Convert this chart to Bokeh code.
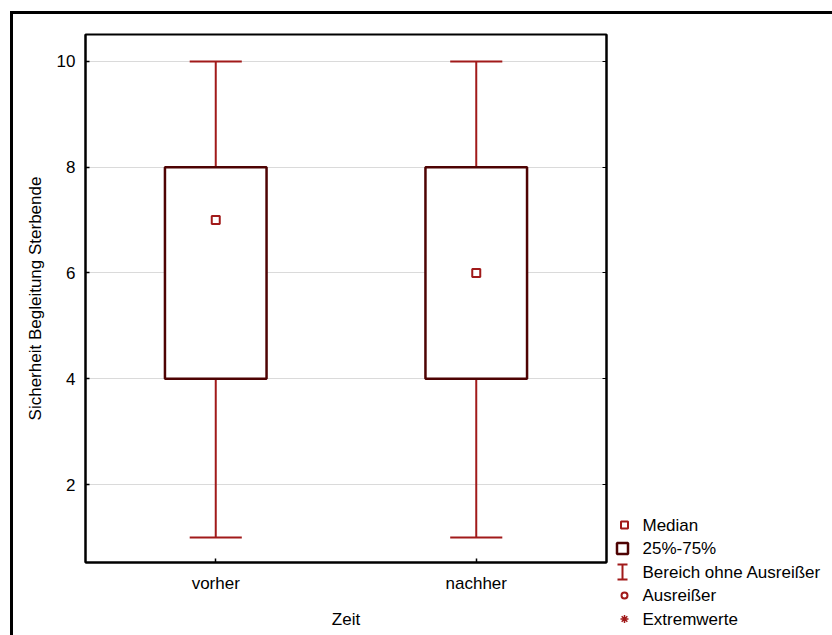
from bokeh.plotting import figure
from bokeh.layouts import row, column
from bokeh.models import Range1d, FixedTicker, LinearAxis, ColumnDataSource, CustomLabelingPolicy
from bokeh.core.properties import value
from bokeh.embed import file_html
from bokeh.resources import INLINE

# Box plot summary per time point
zeit = ["vorher", "nachher"]
median = [7, 6]
q1 = [4, 4]
q3 = [8, 8]
whisker_low = [1, 1]
whisker_high = [10, 10]
y_ticks = [2, 4, 6, 8, 10]

legend_labels = ["Median", "25%-75%", "Bereich ohne Ausreißer", "Ausreißer", "Extremwerte"]

FONT = "Liberation Sans"
FS = "17px"
BOX_COLOR = "#4e0303"
WHISK_COLOR = "#a11a1a"
MED_COLOR = "#a11a1a"

box_w = 0.39
cap_w = 0.2

xpos = [i + 1 for i in range(len(zeit))]
src = ColumnDataSource(dict(
    x=xpos, med=median, q1=q1, q3=q3, lo=whisker_low, hi=whisker_high,
    cl=[x - cap_w / 2 for x in xpos], cr=[x + cap_w / 2 for x in xpos],
))

p = figure(
    x_range=Range1d(0.5, len(zeit) + 0.5),
    y_range=Range1d(0.525, 10.51),
    width=597, height=621,
    min_border_left=72, min_border_right=4, min_border_top=20, min_border_bottom=73,
    output_backend="svg", toolbar_location=None,
)

# whiskers (stems and caps)
p.segment(x0="x", y0="lo", x1="x", y1="q1", source=src, line_color=WHISK_COLOR, line_width=2)
p.segment(x0="x", y0="q3", x1="x", y1="hi", source=src, line_color=WHISK_COLOR, line_width=2)
p.segment(x0="cl", y0="lo", x1="cr", y1="lo", source=src, line_color=WHISK_COLOR, line_width=2)
p.segment(x0="cl", y0="hi", x1="cr", y1="hi", source=src, line_color=WHISK_COLOR, line_width=2)

# interquartile box
p.vbar(x="x", bottom="q1", top="q3", width=box_w, source=src,
       fill_color="white", line_color=BOX_COLOR, line_width=2.5)

# median marker
p.scatter(x="x", y="med", source=src, marker="square", size=8,
          fill_color="white", line_color=MED_COLOR, line_width=2)

# axes styling
p.outline_line_color = "black"
p.outline_line_width = 2
p.xgrid.visible = False
p.ygrid.grid_line_color = "#dadada"
p.ygrid.grid_line_width = 1
p.yaxis.ticker = FixedTicker(ticks=y_ticks)
p.ygrid.ticker = FixedTicker(ticks=y_ticks)
p.xaxis.ticker = FixedTicker(ticks=xpos)
p.xaxis.major_label_overrides = {x: name for x, name in zip(xpos, zeit)}

for ax in (p.xaxis[0], p.yaxis[0]):
    ax.axis_line_width = 2
    ax.axis_line_color = "black"
    ax.major_tick_in = 4
    ax.major_tick_out = 0
    ax.major_tick_line_width = 1.5
    ax.minor_tick_line_color = None
    ax.major_label_text_font = FONT
    ax.major_label_text_font_size = FS
    ax.major_label_text_color = "black"
    ax.axis_label_text_font = FONT
    ax.axis_label_text_font_size = FS
    ax.axis_label_text_font_style = "normal"
    ax.axis_label_text_color = "black"

p.xaxis.axis_label = "Zeit"
p.yaxis.axis_label = "Sicherheit Begleitung Sterbende"
p.xaxis.major_label_standoff = 11
p.xaxis.axis_label_standoff = 14
p.yaxis.major_label_standoff = 10
p.yaxis.axis_label_standoff = 9

# right-hand axis: tick marks only, no labels
right_ax = LinearAxis(ticker=FixedTicker(ticks=y_ticks),
                      major_label_policy=CustomLabelingPolicy(code="return new Set()"),
                      major_label_text_font_size="1px",
                      major_label_standoff=0, major_tick_in=4, major_tick_out=0,
                      minor_tick_line_color=None, axis_line_width=2)
p.add_layout(right_ax, "right")

# legend panel drawn beside the plot
leg = figure(width=222, height=621, x_range=Range1d(0, 222), y_range=Range1d(621, 0),
             output_backend="svg", toolbar_location=None, min_border=0)
leg.axis.visible = False
leg.grid.visible = False
leg.outline_line_color = None

row_y0, row_step = 510.5, 23.5
ys = [row_y0 + i * row_step for i in range(len(legend_labels))]
mx, tx = 13, 32

leg.scatter([mx + 1], [ys[0]], marker="square", size=7, fill_color="white",
            line_color=MED_COLOR, line_width=2)
leg.scatter([mx - 1], [ys[1]], marker="square", size=11, fill_color="white",
            line_color=BOX_COLOR, line_width=2.5)
leg.segment([mx - 1], [ys[2] - 7.5], [mx - 1], [ys[2] + 7.5], line_color=WHISK_COLOR, line_width=2)
leg.segment([mx - 6, mx - 6], [ys[2] - 7.5, ys[2] + 7.5], [mx + 4, mx + 4],
            [ys[2] - 7.5, ys[2] + 7.5], line_color=WHISK_COLOR, line_width=2)
leg.scatter([mx + 1], [ys[3]], marker="circle", size=6, fill_color="white",
            line_color=MED_COLOR, line_width=2)
leg.scatter([mx + 1], [ys[4]], marker="asterisk", size=8, line_color=MED_COLOR, line_width=1.5)
leg.text(x=[tx] * len(legend_labels), y=ys, text=legend_labels, text_font=value(FONT),
         text_font_size=FS, text_baseline="middle", text_align="left", text_color="black")

layout = row(p, column(leg), styles={"margin-left": "10px", "margin-top": "11px",
                                     "border-top": "3px solid black", "border-left": "3px solid black"})

open("out.html", "w").write(file_html(layout, INLINE))
